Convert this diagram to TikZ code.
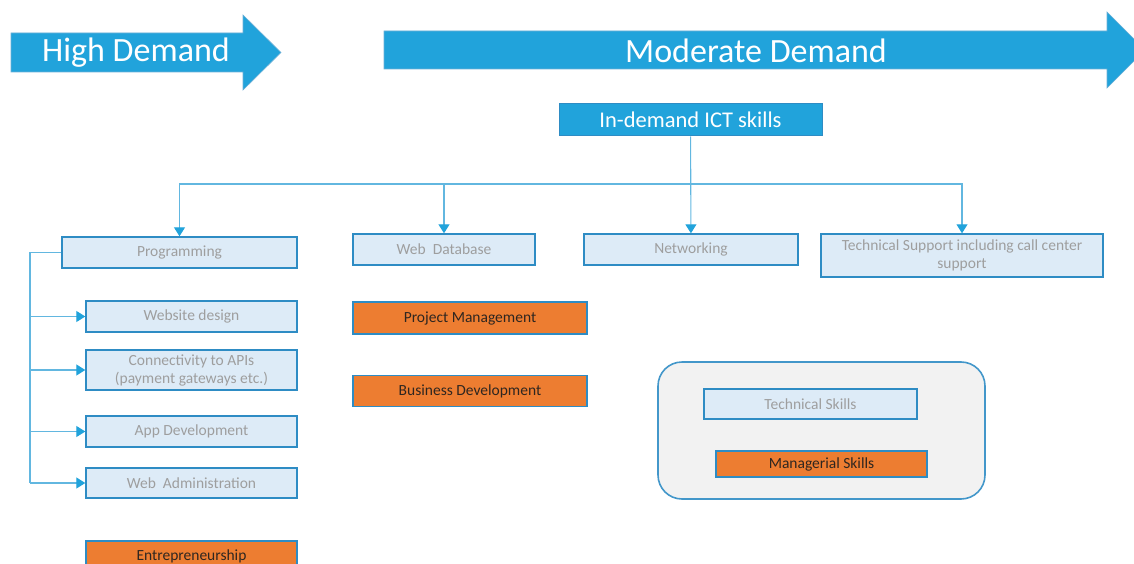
\documentclass[tikz,border=0pt]{standalone}
\usepackage{fontspec}
\setmainfont{Carlito}
\usetikzlibrary{arrows.meta,positioning}

\definecolor{demandblue}{HTML}{21A3DB}
\definecolor{edgeblue}{HTML}{2E8CC4}
\definecolor{linkblue}{HTML}{62B7E0}
\definecolor{skillfill}{HTML}{DDEBF7}
\definecolor{skilltext}{HTML}{9E9E9E}
\definecolor{mgmtfill}{HTML}{ED7D31}
\definecolor{mgmttext}{HTML}{2E2620}
\definecolor{legendfill}{HTML}{F2F2F2}

\begin{document}
\begin{tikzpicture}[
  x=1pt, y=-1pt,
  tech/.style={draw=edgeblue, line width=1.4pt, fill=skillfill, text=skilltext, align=center,
    font=\fontsize{15.5}{18}\selectfont, inner sep=0pt, minimum height=31pt},
  mgmt/.style={tech, fill=mgmtfill, text=mgmttext},
  title/.style={draw=edgeblue, line width=1pt, fill=demandblue, text=white, inner sep=0pt,
    font=\fontsize{22.5}{24}\selectfont, minimum width=263pt, minimum height=32pt},
  demand/.style={fill=demandblue, draw=edgeblue!70, line width=0.6pt},
  demandtext/.style={text=white, font=\fontsize{34}{36}\selectfont},
  link/.style={draw=linkblue, line width=1.1pt},
  arrow/.style={link, -{Triangle[length=9pt, width=11pt, color=demandblue]}}
]
\useasboundingbox (0,0) rectangle (1134,564);

% demand arrows across the top
\path[demand] (11,33) -- (243,33) -- (243,15) -- (281,52.5) -- (243,90) -- (243,72) -- (11,72) -- cycle;
\node[demandtext] (high) at (136,53) {High Demand};
\path[demand] (384,31) -- (1107,31) -- (1107,12) -- (1145,50) -- (1107,88) -- (1107,69) -- (384,69) -- cycle;
\node[demandtext] (moderate) at (756,51) {Moderate Demand};

\node[title] (ict) at (690.5,120) {In-demand ICT skills};

% first row of skill areas
\node[tech, minimum width=235pt] (prog) at (179.5,252.5) {Programming};
\node[tech, minimum width=182pt] (webdb) at (444,249.5) {Web~ Database};
\node[tech, minimum width=214pt] (net) at (691,249.5) {Networking};
\node[tech, minimum width=282pt, minimum height=43pt] (support) at (962,255.5) {Technical Support including call center\\support};

% programming sub-skills
\node[tech, minimum width=211pt] (website) at (191.5,316.5) {Website design};
\node[tech, minimum width=211pt, minimum height=40pt] (apis) at (191.5,370) {Connectivity to APIs\\(payment gateways etc.)};
\node[tech, minimum width=211pt] (appdev) at (191.5,431.5) {App Development};
\node[tech, minimum width=211pt, minimum height=30pt] (webadmin) at (191.5,483) {Web~ Administration};
\node[mgmt, minimum width=211pt] (entre) at (191.5,556.5) {Entrepreneurship};

% managerial skills
\node[mgmt, minimum width=234pt, minimum height=32pt] (pm) at (470,318) {Project Management};
\node[mgmt, minimum width=234pt, below=40pt of pm] (bizdev) {Business Development};

% legend
\draw[draw=edgeblue!90, line width=1.6pt, fill=legendfill, rounded corners=24pt] (658,362) rectangle (985,499);
\node[tech, minimum width=213pt, minimum height=30pt] (techkey) at (810.5,404) {Technical Skills};
\node[mgmt, minimum width=211pt, minimum height=26pt] (mgmtkey) at (821.5,464) {Managerial Skills};

% connectors
\coordinate (bus) at (691,184);
\coordinate (trunk) at (30,252.5);
\draw[arrow] (ict) -- (net);
\foreach \n in {prog,webdb,support}
  \draw[arrow] (bus) -| (\n);
\draw[link] (prog) -- (trunk) -- (trunk |- webadmin);
\foreach \n in {website,apis,appdev,webadmin}
  \draw[arrow] (trunk |- \n) -- (\n);
\end{tikzpicture}
\end{document}
